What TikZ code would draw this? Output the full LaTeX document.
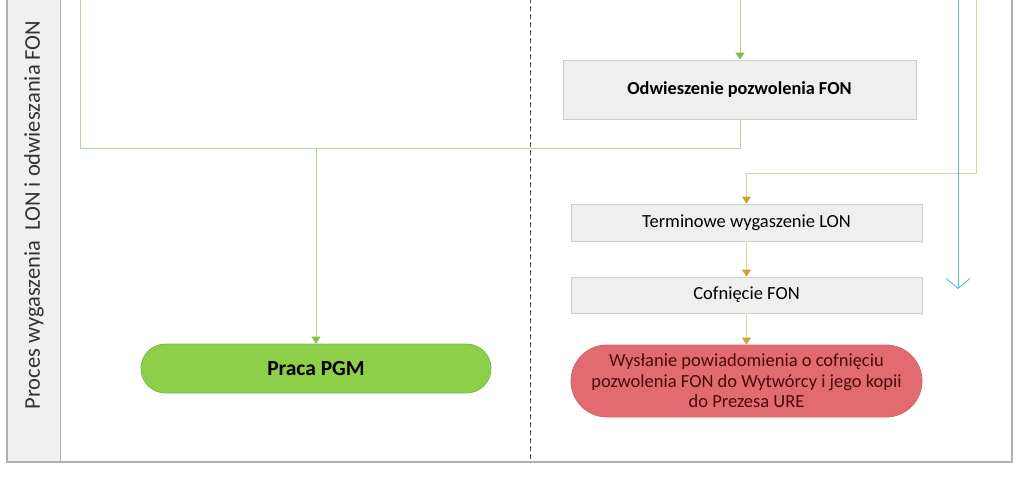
\documentclass[tikz,border=0pt]{standalone}
\usepackage{fontspec}
\setmainfont{Carlito}
\usetikzlibrary{arrows.meta}
\definecolor{frameC}{HTML}{A9B3B5}
\definecolor{laneC}{HTML}{F0F0F0}
\definecolor{boxF}{HTML}{EFEFEF}
\definecolor{boxD}{HTML}{CCD3BC}
\definecolor{greenL}{HTML}{B5D69A}
\definecolor{greenA}{HTML}{7DC242}
\definecolor{tanL}{HTML}{DCD3A6}
\definecolor{goldA}{HTML}{C9A42E}
\definecolor{blueL}{HTML}{5BB8E2}
\definecolor{pgmF}{HTML}{8ECF4A}
\definecolor{pgmD}{HTML}{7DB848}
\definecolor{redF}{HTML}{E26A71}
\definecolor{redD}{HTML}{D0676C}
\definecolor{redT}{HTML}{4A0A0A}
\tikzset{
  procbox/.style={draw=boxD, fill=boxF, line width=0.8pt, rectangle, inner sep=0pt, align=center},
  termbox/.style={rounded corners=#1, line width=0.8pt, rectangle, inner sep=0pt, align=center},
  gline/.style={draw=greenL, line width=0.9pt},
  garrow/.style={gline, -{Triangle[length=7pt,width=9pt,color=greenA]}},
  tline/.style={draw=tanL, line width=0.9pt},
  tarrow/.style={tline, -{Triangle[length=7pt,width=9pt,color=goldA]}},
  barrow/.style={draw=blueL, line width=0.9pt, -{Straight Barb[length=10pt,width=24pt,line width=0.9pt]}},
}
\begin{document}
\begin{tikzpicture}[x=1pt,y=-1pt]
\useasboundingbox (0,0) rectangle (1024,477);
% lane
\fill[laneC] (7,-2) rectangle (60,462);
\draw[frameC, line width=1.2pt] (7,-2) -- (7,462) -- (1012,462) -- (1012,-2);
\draw[frameC, line width=1pt] (60,-2) -- (60,462);
\node[rotate=90, font=\fontsize{22.5}{26}\selectfont, text=black!80] (lane) at (34,215) {Proces wygaszenia\ \ LON i odwieszania FON};
% dashed divider
\draw[black!70, dashed, dash pattern=on 5pt off 3pt, line width=0.9pt] (530,-2) -- (530,462);

% nodes
\node[procbox, minimum width=353pt, minimum height=59pt, font=\fontsize{18.3}{22}\selectfont\bfseries] (odw) at (739.5,89.5) {Odwieszenie pozwolenia FON};
\node[procbox, minimum width=351pt, minimum height=37pt, font=\fontsize{18.5}{22}\selectfont] (term) at (746.5,222.5) {Terminowe wygaszenie LON};
\node[procbox, minimum width=351pt, minimum height=36pt, font=\fontsize{18.5}{22}\selectfont] (cof) at (746.5,295) {Cofnięcie FON};
\node[termbox=36pt, draw=redD, fill=redF, minimum width=351pt, minimum height=72pt, text=redT, font=\fontsize{18.5}{20.5}\selectfont] (wys) at (746.5,381) {Wysłanie powiadomienia o cofnięciu\\pozwolenia FON do Wytwórcy i jego kopii\\do Prezesa URE};
\node[termbox=24.5pt, draw=pgmD, fill=pgmF, minimum width=350pt, minimum height=49pt, font=\fontsize{21.5}{24}\selectfont\bfseries] (pgm) at (316,368.5) {Praca PGM};

% coordinates
\coordinate (gtop) at (80,-2);
\coordinate (gcorner) at (80,148);
\coordinate (gjoin) at (316,148);
\coordinate (odwtop) at (740,-2);
\coordinate (tantop) at (976,-2);
\coordinate (tancorner) at (976,173);
\coordinate (tanleft) at (746.5,173);
\coordinate (bluetop) at (958,-2);
\coordinate (blueend) at (958,289);

% connectors
\draw[garrow] (odwtop) -- (odw.north -| odwtop);
\draw[gline] (odw.south -| odwtop) |- (gcorner) -- (gtop);
\draw[garrow] (gjoin) -- (pgm.north);
\draw[tarrow] (tantop) -- (tancorner) -- (tanleft) -- (term.north);
\draw[tarrow] (term.south) -- (cof.north);
\draw[tarrow] (cof.south) -- (wys.north);
\draw[barrow] (bluetop) -- (blueend);
\end{tikzpicture}
\end{document}
